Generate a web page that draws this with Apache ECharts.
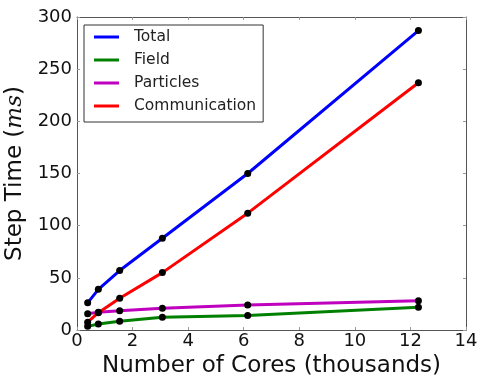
<!DOCTYPE html>
<html>
<head>
<meta charset="utf-8">
<script src="https://cdn.jsdelivr.net/npm/echarts@6/dist/echarts.min.js"></script>
<style>
  html, body { margin: 0; padding: 0; background: #fff; }
  #chart { width: 479px; height: 378px; }
</style>
</head>
<body>
<div id="chart"></div>
<script>
// Core counts (thousands) and per-component step times (ms)
const cores = [0.384, 0.768, 1.536, 3.072, 6.144, 12.288];
const totalMs = [26, 39, 57, 88, 150, 287];
const fieldMs = [3.5, 5.8, 8.3, 12.2, 14, 21.7];
const particlesMs = [15.5, 17, 18.5, 20.8, 24, 28];
const communicationMs = [7.5, 16.6, 30.5, 55, 112, 237];

const seriesNames = ['Total', 'Field', 'Particles', 'Communication'];
const seriesColors = ['#0000ff', '#008000', '#bf00bf', '#ff0000'];
const seriesValues = [totalMs, fieldMs, particlesMs, communicationMs];

const font = 'DejaVu Sans';
const frameColor = '#555';

const chart = echarts.init(document.getElementById('chart'));

function frameAxis(extra) {
  return Object.assign({
    axisLine: { show: true, onZero: false, lineStyle: { color: frameColor, width: 1 } },
    axisTick: { show: true, inside: true, length: 3, lineStyle: { color: '#999' } },
    splitLine: { show: false }
  }, extra);
}

chart.setOption({
  animation: false,
  textStyle: { fontFamily: font },
  grid: { left: 77, right: 13, top: 17, bottom: 48, containLabel: false, outerBoundsMode: 'none' },
  legend: {
    left: 84,
    top: 25,
    orient: 'vertical',
    icon: 'rect',
    itemWidth: 25,
    itemHeight: 3,
    itemGap: 7,
    padding: [4, 7, 8, 10],
    borderColor: '#333',
    borderWidth: 1,
    backgroundColor: '#fff',
    textStyle: { fontFamily: font, fontSize: 15.5, color: '#222', lineHeight: 16, padding: [0, 0, 0, 10] },
    data: seriesNames.map((n, i) => ({ name: n, itemStyle: { color: seriesColors[i] } }))
  },
  xAxis: [
    frameAxis({
      type: 'value', min: 0, max: 14, interval: 2, position: 'bottom',
      name: 'Number of Cores (thousands)', nameLocation: 'middle', nameGap: 25,
      nameTextStyle: { fontFamily: font, fontSize: 23, color: '#111', verticalAlign: 'top' },
      axisLabel: { fontFamily: font, fontSize: 18, color: '#111', margin: 2 }
    }),
    frameAxis({
      type: 'value', min: 0, max: 14, interval: 2, position: 'top',
      axisLabel: { show: false }
    })
  ],
  yAxis: [
    frameAxis({
      type: 'value', min: 0, max: 300, interval: 50, position: 'left',
      name: 'Step Time ({i|ms})', nameLocation: 'middle', nameGap: 45,
      nameTextStyle: {
        fontFamily: font, fontSize: 23, color: '#111',
        rich: { i: { fontFamily: 'DejaVu Serif', fontStyle: 'italic', fontSize: 23, color: '#111' } }
      },
      axisLabel: { fontFamily: font, fontSize: 18, color: '#111', margin: 5 }
    }),
    frameAxis({
      type: 'value', min: 0, max: 300, interval: 50, position: 'right',
      axisLabel: { show: false }
    })
  ],
  series: seriesNames.map((n, i) => ({
    name: n,
    type: 'line',
    xAxisIndex: 0,
    yAxisIndex: 0,
    data: cores.map((c, k) => [c, seriesValues[i][k]]),
    symbol: 'circle',
    symbolSize: 7,
    showAllSymbol: true,
    lineStyle: { color: seriesColors[i], width: 3 },
    itemStyle: { color: '#000' },
    emphasis: { disabled: true },
    z: 2
  }))
});
</script>
</body>
</html>
